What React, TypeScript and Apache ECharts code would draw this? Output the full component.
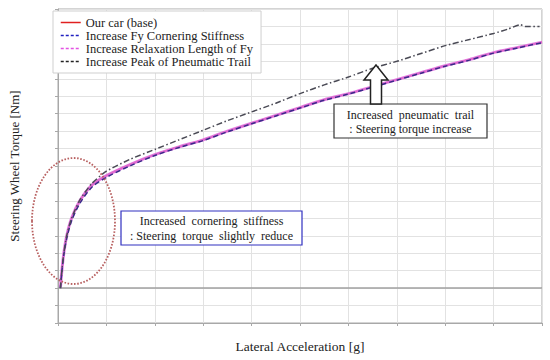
import React, { useEffect, useRef } from "react";
import * as echarts from "echarts";

// Lateral acceleration sample points (x) and steering wheel torque (y)
const accel = [0.05, 0.08, 0.12, 0.18, 0.28, 0.45, 0.7, 1.0, 1.5, 2.0, 2.5, 3.0, 3.5, 4.0, 4.5, 5.0, 5.5, 6.0, 6.5, 7.0, 7.5, 8.0, 8.5, 9.0, 9.5, 10.0];
const baseTorque = [0, 1.0, 2.0, 3.0, 4.0, 5.0, 5.9, 6.45, 7.1, 7.65, 8.1, 8.5, 9.0, 9.45, 9.9, 10.35, 10.8, 11.15, 11.55, 11.95, 12.35, 12.75, 13.1, 13.5, 13.8, 14.1];
const stiffTorque = [0, 0.95, 1.9, 2.85, 3.85, 4.85, 5.78, 6.35, 7.02, 7.6, 8.06, 8.46, 8.96, 9.42, 9.87, 10.32, 10.77, 11.12, 11.52, 11.92, 12.32, 12.72, 13.07, 13.47, 13.77, 14.07];
const relaxTorque = [0, 1.0, 2.0, 3.0, 4.0, 5.0, 5.9, 6.45, 7.1, 7.65, 8.1, 8.5, 9.0, 9.45, 9.9, 10.35, 10.8, 11.15, 11.55, 11.95, 12.35, 12.75, 13.1, 13.5, 13.8, 14.1];
const trailAccel = [0.05, 0.08, 0.12, 0.18, 0.28, 0.45, 0.7, 1.0, 1.5, 2.0, 2.5, 3.0, 3.5, 4.0, 4.5, 5.0, 5.5, 6.0, 6.5, 7.0, 7.5, 8.0, 8.5, 9.0, 9.3, 9.55, 9.65, 9.95];
const trailTorque = [0, 1.0, 2.0, 3.0, 4.0, 5.05, 6.0, 6.7, 7.4, 7.95, 8.5, 9.05, 9.6, 10.1, 10.6, 11.15, 11.65, 12.1, 12.6, 13.0, 13.45, 13.9, 14.25, 14.6, 14.85, 15.1, 15.0, 15.0];

const seriesNames = [
  "Our car (base)",
  "Increase Fy Cornering Stiffness",
  "Increase Relaxation Length of Fy",
  "Increase Peak of Pneumatic Trail",
];

const xMin = 0, xMax = 10, xStep = 1;
const yMin = -2, yMax = 16, yStep = 1;

const SERIF = "'Liberation Serif', 'DejaVu Serif', serif";

function pairs(xs: number[], ys: number[]) {
  return xs.map((x, i) => [x, ys[i]]);
}

export default function App() {
  const ref = useRef<HTMLDivElement>(null);
  useEffect(() => {
    if (!ref.current) return;
    const chart = echarts.init(ref.current, undefined, { renderer: "svg" });
    const gray = "#a8a8a8";
    chart.setOption({
      animation: false,
      backgroundColor: "#ffffff",
      grid: { left: 52, right: 8, top: 9, bottom: 37, show: true, borderColor: gray, borderWidth: 1 },
      legend: {
        orient: "vertical",
        left: 53,
        top: 11,
        padding: [5, 8, 5, 7],
        backgroundColor: "#ffffff",
        borderColor: "#cfcfcf",
        borderWidth: 1,
        itemWidth: 20,
        itemHeight: 10,
        itemGap: 0,
        itemStyle: { opacity: 0 },
        textStyle: { fontFamily: SERIF, fontSize: 12.5, lineHeight: 13, color: "#222" },
        data: [
          { name: seriesNames[0], lineStyle: { color: "#e02020", width: 1.5, type: "solid" } },
          { name: seriesNames[1], lineStyle: { color: "#2020c0", width: 1.5, type: [3, 2] } },
          { name: seriesNames[2], lineStyle: { color: "#e040e0", width: 1.5, type: [3, 2] } },
          { name: seriesNames[3], lineStyle: { color: "#222222", width: 1.5, type: [3, 2] } },
        ],
      },
      xAxis: {
        type: "value",
        min: xMin,
        max: xMax,
        interval: xStep,
        name: "Lateral Acceleration [g]",
        nameLocation: "middle",
        nameGap: 16,
        nameTextStyle: { fontFamily: SERIF, fontSize: 13.5, color: "#222" },
        axisLine: { onZero: false, lineStyle: { color: gray } },
        axisTick: { show: true, length: 3, lineStyle: { color: gray } },
        axisLabel: { show: false },
        splitLine: { show: true, lineStyle: { color: "#e2e2e2" } },
      },
      yAxis: {
        type: "value",
        min: yMin,
        max: yMax,
        interval: yStep,
        name: "Steering Wheel Torque [Nm]",
        nameLocation: "middle",
        nameGap: 37,
        nameTextStyle: { fontFamily: SERIF, fontSize: 13, color: "#222" },
        axisLine: { show: true, onZero: false, lineStyle: { color: gray } },
        axisTick: { show: true, length: 3, lineStyle: { color: gray } },
        axisLabel: { show: false },
        splitLine: { show: true, lineStyle: { color: "#e2e2e2" } },
      },
      series: [
        {
          name: seriesNames[0],
          type: "line",
          data: pairs(accel, baseTorque),
          showSymbol: false,
          symbol: "none",
          smooth: 0.3,
          lineStyle: { color: "#e02020", width: 1.5 },
          itemStyle: { color: "#e02020" },
          markLine: {
            silent: true,
            symbol: "none",
            label: { show: false },
            lineStyle: { color: "#a0a0a0", width: 1.5, type: "solid" },
            data: [{ yAxis: 0 }],
          },
          z: 3,
        },
        {
          name: seriesNames[2],
          type: "line",
          data: pairs(accel, relaxTorque),
          showSymbol: false,
          symbol: "none",
          smooth: 0.3,
          lineStyle: { color: "#e070e0", width: 3, type: "solid", opacity: 0.9 },
          itemStyle: { color: "#e040e0" },
          z: 4,
        },
        {
          name: seriesNames[1],
          type: "line",
          data: pairs(accel, stiffTorque),
          showSymbol: false,
          symbol: "none",
          smooth: 0.3,
          lineStyle: { color: "#3a2a8a", width: 1.5, type: [5, 3] },
          itemStyle: { color: "#2020c0" },
          z: 5,
        },
        {
          name: seriesNames[3],
          type: "line",
          data: pairs(trailAccel, trailTorque),
          showSymbol: false,
          symbol: "none",
          smooth: 0.2,
          lineStyle: { color: "#4a4a55", width: 1.5, type: [6, 2.5, 1.5, 2.5] },
          itemStyle: { color: "#222222" },
          z: 6,
        },
      ],
      graphic: [
        {
          type: "ellipse",
          shape: { cx: 73.5, cy: 221, rx: 41.5, ry: 63 },
          style: { fill: "none", stroke: "#b86060", lineWidth: 1.8, lineDash: [1.6, 1.6] },
          z: 10,
        },
        {
          type: "rect",
          shape: { x: 121, y: 211, width: 181, height: 34 },
          style: { fill: "#ffffff", stroke: "#3030c0", lineWidth: 1.2 },
          z: 10,
        },
        {
          type: "text",
          x: 211.5,
          y: 221,
          style: { text: "Increased  cornering  stiffness", fontFamily: SERIF, fontSize: 12, fill: "#222", align: "center", verticalAlign: "middle" },
          z: 11,
        },
        {
          type: "text",
          x: 211.5,
          y: 236,
          style: { text: ": Steering  torque  slightly  reduce", fontFamily: SERIF, fontSize: 12, fill: "#222", align: "center", verticalAlign: "middle" },
          z: 11,
        },
        {
          type: "rect",
          shape: { x: 334, y: 104, width: 153, height: 34 },
          style: { fill: "#ffffff", stroke: "#333", lineWidth: 1.2 },
          z: 10,
        },
        {
          type: "text",
          x: 410.5,
          y: 115,
          style: { text: "Increased  pneumatic  trail", fontFamily: SERIF, fontSize: 12, fill: "#222", align: "center", verticalAlign: "middle" },
          z: 11,
        },
        {
          type: "text",
          x: 410.5,
          y: 129,
          style: { text: ": Steering torque increase", fontFamily: SERIF, fontSize: 12, fill: "#222", align: "center", verticalAlign: "middle" },
          z: 11,
        },
        {
          type: "polygon",
          shape: { points: [[370.5, 104], [370.5, 80], [364, 80], [376, 65], [388, 80], [381.5, 80], [381.5, 104]] },
          style: { fill: "#ffffff", stroke: "#222", lineWidth: 1.5 },
          z: 10,
        },
      ],
    });
    return () => chart.dispose();
  }, []);
  return <div ref={ref} style={{ position: "fixed", left: 0, top: 0, width: 550, height: 360 }} />;
}
